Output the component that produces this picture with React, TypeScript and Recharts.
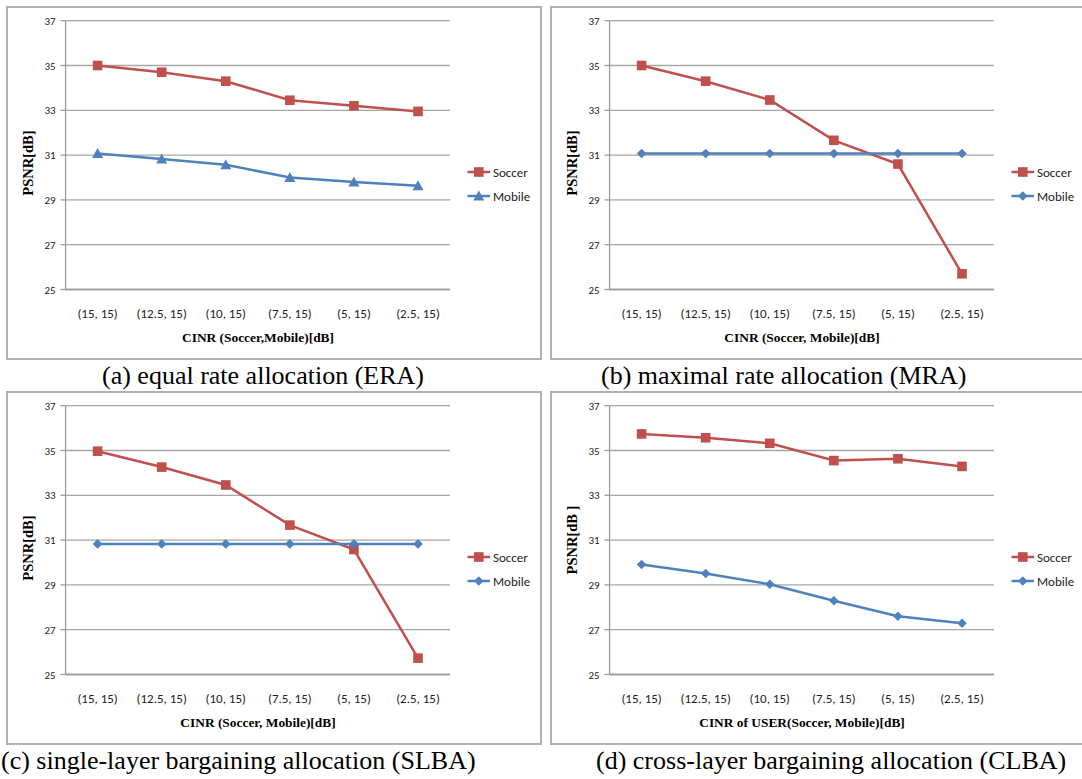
import React from 'react';
import { LineChart, Line, XAxis, YAxis, CartesianGrid, Legend } from 'recharts';

// CINR pairs (Soccer, Mobile) in dB
const categories = ['(15, 15)', '(12.5, 15)', '(10, 15)', '(7.5, 15)', '(5, 15)', '(2.5, 15)'];
const psnrTicks = [25, 27, 29, 31, 33, 35, 37];

// (a) equal rate allocation
const eraSoccer = [35.0, 34.7, 34.3, 33.45, 33.2, 32.95];
const eraMobile = [31.07, 30.83, 30.57, 30.0, 29.8, 29.63];
// (b) maximal rate allocation
const mraSoccer = [35.0, 34.3, 33.46, 31.66, 30.6, 25.7];
const mraMobile = [31.07, 31.07, 31.07, 31.07, 31.07, 31.07];
// (c) single-layer bargaining allocation
const slbaSoccer = [34.97, 34.26, 33.46, 31.67, 30.58, 25.73];
const slbaMobile = [30.83, 30.83, 30.83, 30.83, 30.83, 30.83];
// (d) cross-layer bargaining allocation
const clbaSoccer = [35.74, 35.57, 35.32, 34.55, 34.63, 34.29];
const clbaMobile = [29.91, 29.51, 29.03, 28.29, 27.6, 27.29];

const SOCCER = '#C0504D';
const MOBILE = '#4F81BD';
const GRID = '#A6A6A6';
const AXIS = '#9A9A9A';
const SANS = 'Carlito, Lato, "Open Sans", sans-serif';
const SERIF = '"Liberation Serif", "Times New Roman", serif';

type Marker = 'square' | 'triangle' | 'diamond';

const buildRows = (soccer: number[], mobile: number[]) =>
  categories.map((cat, i) => ({ cat, soccer: soccer[i], mobile: mobile[i] }));

function markerShape(kind: Marker, cx: number, cy: number, color: string, key?: string) {
  if (kind === 'square') {
    return <rect key={key} x={cx - 4.8} y={cy - 4.8} width={9.6} height={9.6} fill={color} />;
  }
  if (kind === 'triangle') {
    return (
      <polygon
        key={key}
        points={`${cx},${cy - 5.5} ${cx + 5.5},${cy + 4.5} ${cx - 5.5},${cy + 4.5}`}
        fill={color}
      />
    );
  }
  return (
    <polygon
      key={key}
      points={`${cx},${cy - 4.8} ${cx + 4.8},${cy} ${cx},${cy + 4.8} ${cx - 4.8},${cy}`}
      fill={color}
    />
  );
}

const dotRenderer = (kind: Marker, color: string, prefix: string) => (p: any) =>
  markerShape(kind, p.cx, p.cy, color, `${prefix}-${p.index}`);

const XTick = (p: any) => (
  <text
    x={p.x}
    y={p.y + 23.5}
    textAnchor="middle"
    dominantBaseline="central"
    fontFamily={SANS}
    fontSize={13}
    fill="#222"
  >
    {p.payload.value}
  </text>
);

const YTick = (p: any) => (
  <text
    x={p.x}
    y={p.y + 0.5}
    textAnchor="end"
    dominantBaseline="central"
    fontFamily={SANS}
    fontSize={11}
    fill="#222"
  >
    {p.payload.value}
  </text>
);

type PanelProps = {
  ox: number;
  oy: number;
  soccer: number[];
  mobile: number[];
  mobileMarker: Marker;
  xTitle: string;
  yTitle: string;
  yTitleY: number;
  caption: string;
  captionLeft: number;
  id: string;
};

function Panel(props: PanelProps) {
  const { ox, oy, soccer, mobile, mobileMarker, xTitle, yTitle, yTitleY, caption, captionLeft, id } = props;
  const rows = buildRows(soccer, mobile);

  const legendContent = () => (
    <svg width={80} height={44} style={{ display: 'block', overflow: 'visible' }}>
      {[
        { name: 'Soccer', color: SOCCER, kind: 'square' as Marker, y: 12 },
        { name: 'Mobile', color: MOBILE, kind: mobileMarker, y: 36 },
      ].map((item) => (
        <g key={item.name}>
          <line x1={7.5} x2={30} y1={item.y} y2={item.y} stroke={item.color} strokeWidth={2.5} />
          {markerShape(item.kind, 18.8, item.y, item.color)}
          <text
            x={33}
            y={item.y + 0.5}
            dominantBaseline="central"
            fontFamily={SANS}
            fontSize={13}
            fill="#222"
          >
            {item.name}
          </text>
        </g>
      ))}
    </svg>
  );

  return (
    <div style={{ position: 'absolute', left: ox, top: oy, width: 541, height: 390 }}>
      <div
        style={{
          position: 'absolute',
          left: 6,
          top: 6,
          width: 536,
          height: 354,
          border: '2px solid #B0B0B0',
          boxSizing: 'border-box',
        }}
      />
      <div style={{ position: 'absolute', left: 0, top: 0 }}>
        <LineChart
          width={541}
          height={360}
          data={rows}
          margin={{ top: 20.7, right: 91, left: 0, bottom: 40.5 }}
        >
          <CartesianGrid vertical={false} stroke={GRID} strokeWidth={1.3} />
          <XAxis
            dataKey="cat"
            height={30}
            interval={0}
            padding={{ left: 32, right: 32 }}
            axisLine={{ stroke: AXIS, strokeWidth: 1.3 }}
            tickLine={false}
            tickSize={0}
            tickMargin={0}
            tick={<XTick />}
          />
          <YAxis
            type="number"
            width={65.6}
            domain={[25, 37]}
            ticks={psnrTicks}
            interval={0}
            axisLine={{ stroke: AXIS, strokeWidth: 1.3 }}
            tickLine={{ stroke: AXIS, strokeWidth: 1.3 }}
            tickSize={5}
            tickMargin={5}
            tick={<YTick />}
          />
          <Legend
            layout="vertical"
            align="center"
            verticalAlign="middle"
            content={legendContent}
            wrapperStyle={{ left: 460, top: 160, width: 80, height: 44 }}
          />
          <Line
            dataKey="soccer"
            name="Soccer"
            stroke={SOCCER}
            strokeWidth={2.5}
            dot={dotRenderer('square', SOCCER, `${id}-s`)}
            activeDot={false}
            isAnimationActive={false}
          />
          <Line
            dataKey="mobile"
            name="Mobile"
            stroke={MOBILE}
            strokeWidth={2.5}
            dot={dotRenderer(mobileMarker, MOBILE, `${id}-m`)}
            activeDot={false}
            isAnimationActive={false}
          />
        </LineChart>
      </div>
      <div
        style={{
          position: 'absolute',
          left: 27.6,
          top: yTitleY,
          transform: 'translate(-50%, -50%) rotate(-90deg)',
          fontFamily: SERIF,
          fontWeight: 'bold',
          fontSize: 14.5,
          lineHeight: 1,
          whiteSpace: 'nowrap',
          color: '#000',
        }}
      >
        {yTitle}
      </div>
      <div
        style={{
          position: 'absolute',
          left: 258,
          top: 338,
          transform: 'translate(-50%, -50%)',
          fontFamily: SERIF,
          fontWeight: 'bold',
          fontSize: 13.4,
          lineHeight: 1,
          whiteSpace: 'nowrap',
          color: '#000',
        }}
      >
        {xTitle}
      </div>
      <div
        style={{
          position: 'absolute',
          left: captionLeft,
          top: 363,
          fontFamily: SERIF,
          fontSize: 26,
          lineHeight: '26px',
          whiteSpace: 'nowrap',
          color: '#000',
        }}
      >
        {caption}
      </div>
    </div>
  );
}

export default function App() {
  return (
    <div
      style={{
        position: 'absolute',
        left: 0,
        top: 0,
        width: 1082,
        height: 779,
        overflow: 'hidden',
        background: '#fff',
      }}
    >
      <Panel
        id="era"
        ox={0}
        oy={0}
        soccer={eraSoccer}
        mobile={eraMobile}
        mobileMarker="triangle"
        xTitle="CINR (Soccer,Mobile)[dB]"
        yTitle="PSNR[dB]"
        yTitleY={163}
        caption="(a) equal rate allocation (ERA)"
        captionLeft={102}
      />
      <Panel
        id="mra"
        ox={544}
        oy={0}
        soccer={mraSoccer}
        mobile={mraMobile}
        mobileMarker="diamond"
        xTitle="CINR (Soccer, Mobile)[dB]"
        yTitle="PSNR[dB]"
        yTitleY={163}
        caption="(b) maximal rate allocation (MRA)"
        captionLeft={57}
      />
      <Panel
        id="slba"
        ox={0}
        oy={385}
        soccer={slbaSoccer}
        mobile={slbaMobile}
        mobileMarker="diamond"
        xTitle="CINR (Soccer, Mobile)[dB]"
        yTitle="PSNR[dB]"
        yTitleY={163}
        caption="(c) single-layer bargaining allocation (SLBA)"
        captionLeft={1}
      />
      <Panel
        id="clba"
        ox={544}
        oy={385}
        soccer={clbaSoccer}
        mobile={clbaMobile}
        mobileMarker="diamond"
        xTitle="CINR of USER(Soccer, Mobile)[dB]"
        yTitle="PSNR[dB ]"
        yTitleY={155}
        caption="(d) cross-layer bargaining allocation (CLBA)"
        captionLeft={52}
      />
    </div>
  );
}
